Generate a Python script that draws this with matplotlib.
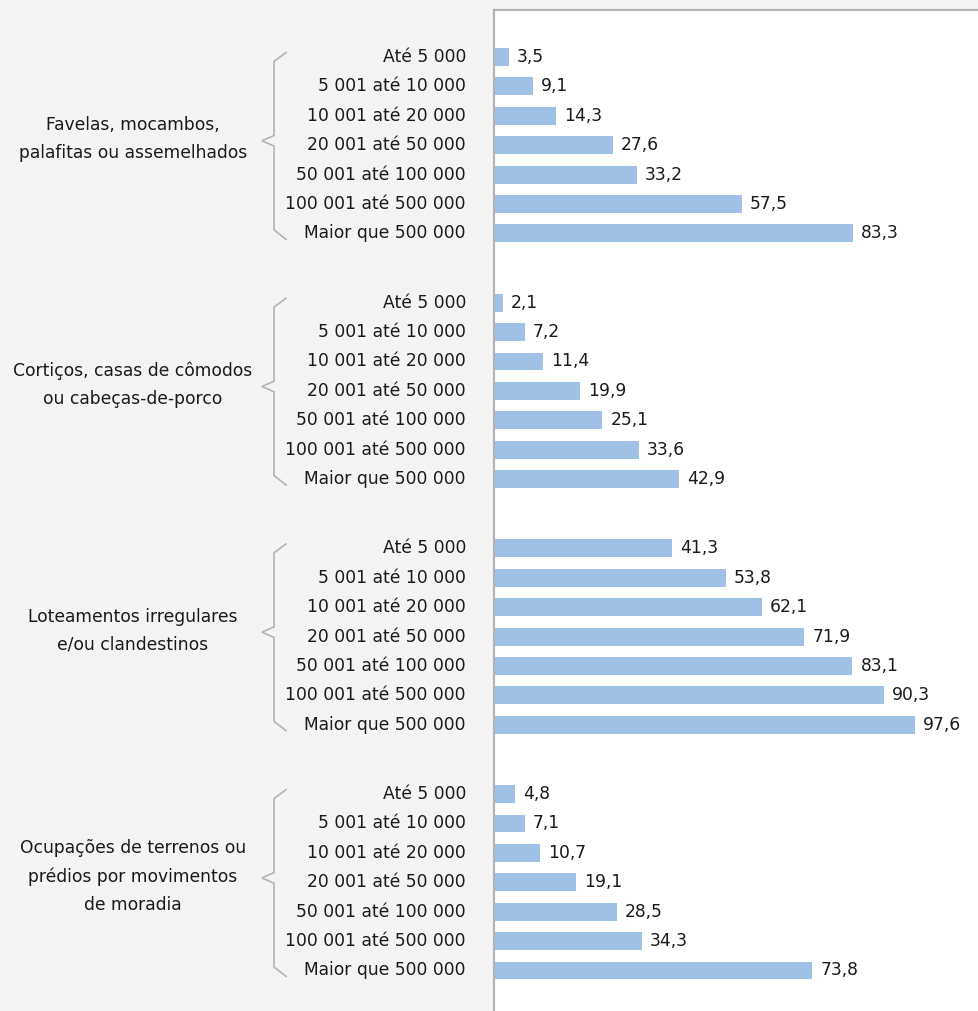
import matplotlib.pyplot as plt
from matplotlib.transforms import blended_transform_factory

# Grupos de assentamento e faixas de população dos municípios
grupos = [
    "Favelas, mocambos,\npalafitas ou assemelhados",
    "Cortiços, casas de cômodos\nou cabeças-de-porco",
    "Loteamentos irregulares\ne/ou clandestinos",
    "Ocupações de terrenos ou\nprédios por movimentos\nde moradia",
]
faixas = [
    "Até 5 000",
    "5 001 até 10 000",
    "10 001 até 20 000",
    "20 001 até 50 000",
    "50 001 até 100 000",
    "100 001 até 500 000",
    "Maior que 500 000",
]
favelas = [3.5, 9.1, 14.3, 27.6, 33.2, 57.5, 83.3]
corticos = [2.1, 7.2, 11.4, 19.9, 25.1, 33.6, 42.9]
loteamentos = [41.3, 53.8, 62.1, 71.9, 83.1, 90.3, 97.6]
ocupacoes = [4.8, 7.1, 10.7, 19.1, 28.5, 34.3, 73.8]
series = [favelas, corticos, loteamentos, ocupacoes]

W, H = 979, 1011
fig = plt.figure(figsize=(W / 100, H / 100), dpi=100, facecolor="#f4f4f4")
plt.rcParams["font.family"] = ["DejaVu Sans"]

x0, ytop = 494, 10
ax = fig.add_axes([x0 / W, 0, (W - x0) / W, (H - ytop) / H])
ax.set_facecolor("white")

passo = 29.4              # pixels por linha
desloc = 245.7 / passo    # distância entre grupos, em linhas
px_por_unid = 421 / 97.6

ax.set_xlim(0, (W - x0) / px_por_unid)
ax.set_ylim((H - 57) / passo, -(57 - ytop) / passo)

cor_barra = "#9fc1e6"
cinza = "#b4b4b4"
fs = 12.3

trans_txt = blended_transform_factory(fig.transFigure, ax.transData)

for g, (nome, valores) in enumerate(zip(grupos, series)):
    ys = [g * desloc + i for i in range(len(valores))]
    ax.barh(ys, valores, height=0.61, color=cor_barra, linewidth=0)
    for y, v, rot in zip(ys, valores, faixas):
        ax.text(v + 8 / px_por_unid, y, f"{v:.1f}".replace(".", ","),
                va="center", ha="left", fontsize=fs, color="#1a1a1a")
        ax.text(466 / W, y, rot, transform=trans_txt, va="center",
                ha="right", fontsize=fs, color="#1a1a1a")

    # chave agrupando as faixas
    topo = ys[0] - 0.15
    base = ys[-1] + 0.2
    meio = (ys[0] + ys[-1]) / 2 - 0.15
    bx = [286 / W, 274 / W, 274 / W, 262 / W, 274 / W, 274 / W, 286 / W]
    by = [topo, topo + 0.3, meio - 0.18, meio, meio + 0.18, base - 0.32, base]
    ax.plot(bx, by, transform=trans_txt, color=cinza, lw=1.2,
            clip_on=False, solid_joinstyle="miter")

    ax.text(133 / W, meio - 0.05, nome, transform=trans_txt, ha="center",
            va="center", fontsize=fs, color="#1a1a1a", linespacing=1.72)

for lado in ["right", "bottom"]:
    ax.spines[lado].set_visible(False)
for lado in ["left", "top"]:
    ax.spines[lado].set_color(cinza)
    ax.spines[lado].set_linewidth(1.6)
ax.set_xticks([])
ax.set_yticks([])

fig.savefig("out.png", dpi=100, facecolor=fig.get_facecolor())
